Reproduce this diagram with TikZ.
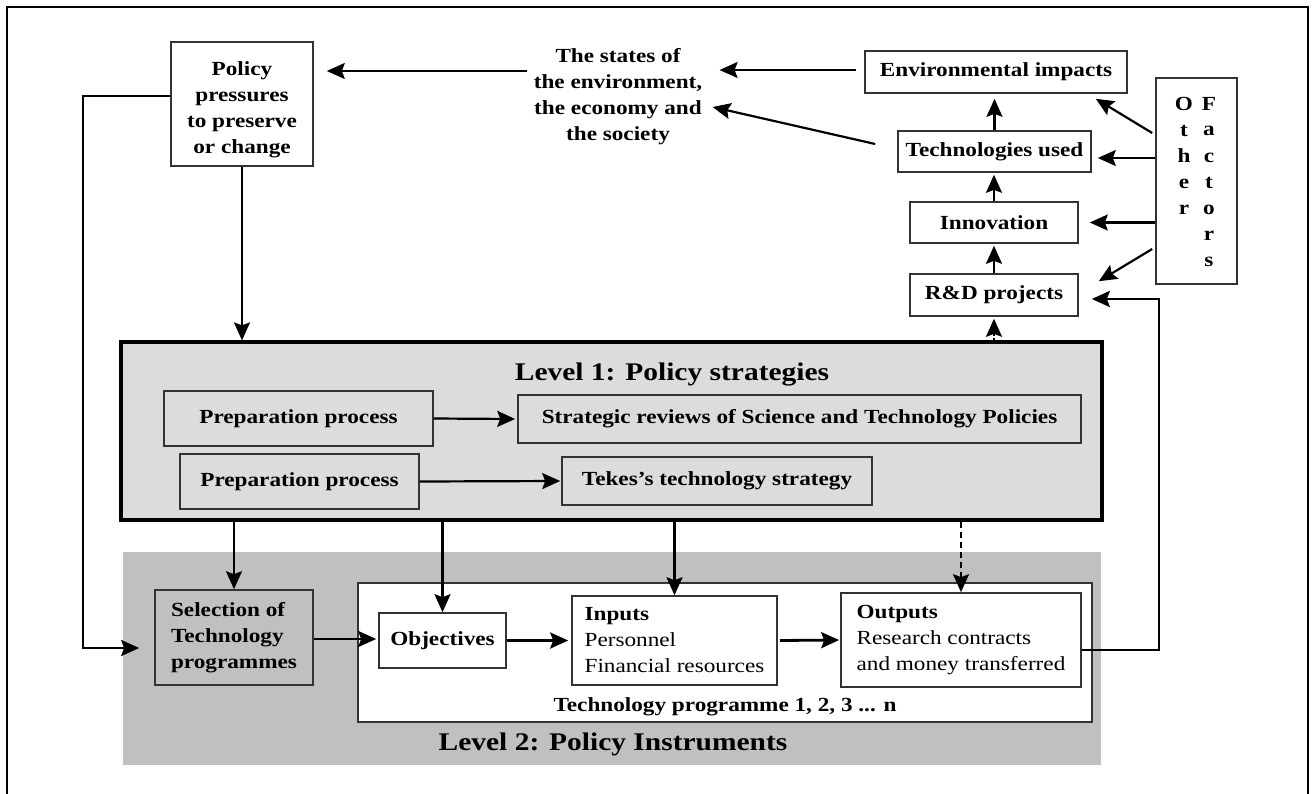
\documentclass[tikz,border=0pt]{standalone}
\usepackage{fontspec}
\setmainfont{Liberation Serif}[FakeStretch=1.16]
\usetikzlibrary{arrows.meta,calc}
\definecolor{lone}{HTML}{DCDCDC}
\definecolor{ltwo}{HTML}{C0C0C0}
\definecolor{bord}{HTML}{333333}
\newcommand\dgb{\fontsize{10}{13}\selectfont\bfseries}
\newcommand\dgt{\fontsize{12.7}{15}\selectfont\bfseries}
\begin{document}
\begin{tikzpicture}[x=0.5pt,y=-0.5pt,
  box/.style={draw=bord,line width=0.8pt,inner sep=0pt,align=center,font=\dgb},
  txt/.style={inner sep=0pt,align=center,font=\dgb},
  arr/.style={line width=1.1pt,-{Stealth[length=9pt,width=8pt,inset=1.5pt]}},
  thickarr/.style={arr,line width=1.4pt}]
\useasboundingbox (0,0) rectangle (1312,793);
\draw[line width=1pt] (7,820) -- (7,7) -- (1308,7) -- (1308,820);

% backgrounds
\node[inner sep=0pt, fill=ltwo, minimum width=489pt, minimum height=106.5pt] (level2) at (612,658.5) {};
\node[box, fill=lone, draw=black, line width=1.6pt, minimum width=490.5pt, minimum height=89pt] (level1) at (611.5,431) {};
\node[txt, font=\dgt] (l1title) at (672,374) {Level 1: Policy strategies};
\node[txt, font=\dgt] (l2title) at (613,744) {Level 2: Policy Instruments};

% top part
\node[box, minimum width=71pt, minimum height=62pt] (policy) at (242,104) {};
\node[txt] (policytext) at (242,110) {Policy\\pressures\\to preserve\\or change};
\node[txt] (states) at (618,97) {The states of\\the environment,\\the economy and\\the society};
\node[box, minimum width=131pt, minimum height=21pt] (env) at (996,72) {Environmental impacts};
\node[box, minimum width=96.5pt, minimum height=20.5pt] (tech) at (994.5,151.5) {Technologies used};
\node[box, minimum width=84pt, minimum height=20.5pt] (inno) at (994,222.5) {Innovation};
\node[box, minimum width=84pt, minimum height=21pt] (rd) at (994,295) {R\&D projects};
\node[box, minimum width=40.5pt, minimum height=103pt] (of) at (1196.5,181) {};
\node[txt, anchor=north] (ofa) at (1184,96.5) {O\\t\\h\\e\\r};
\node[txt, anchor=north] (ofb) at (1209,96.5) {F\\a\\c\\t\\o\\r\\s};

% level 1
\node[box, minimum width=134.5pt, minimum height=27.5pt] (prep1) at (298.5,418.5) {Preparation process};
\node[box, minimum width=281.5pt, minimum height=24pt] (strat) at (799.5,419) {Strategic reviews of Science and Technology Policies};
\node[box, minimum width=119.5pt, minimum height=27.5pt] (prep2) at (299.5,481.5) {Preparation process};
\node[box, minimum width=155pt, minimum height=24pt] (tekes) at (717,481) {Tekes's technology strategy};

% level 2
\node[box, fill=ltwo, align=left, minimum width=79pt, minimum height=47.5pt] (sel) at (234,637.5) {Selection of\\Technology\\programmes};
\node[box, fill=white, minimum width=367pt, minimum height=69.5pt] (prog) at (725,652.5) {};
\node[txt] (progtitle) at (725,707) {Technology programme 1, 2, 3 ... n};
\node[box, minimum width=63.5pt, minimum height=27.5pt] (obj) at (442.5,640.5) {Objectives};
\node[box, align=left, minimum width=102.5pt, minimum height=44.5pt] (inp) at (674.5,640.5) {Inputs\\{\mdseries Personnel}\\{\mdseries Financial resources}};
\node[box, align=left, minimum width=120pt, minimum height=47pt] (outp) at (961,640) {Outputs\\{\mdseries Research contracts}\\{\mdseries and money transferred}};

% connectors top
\draw[arr] ($(states.west|-0,71)+(-6,0)$) -- ($(policy.east|-0,71)+(13,0)$);
\draw[arr] ($(env.west|-0,70)+(-8,0)$) -- ($(states.east|-0,70)+(17,0)$);
\draw[arr] ($(tech.west|-0,144)+(-22,0)$) -- ($(states.east|-0,107)+(10,0)$);
\draw[arr] (tech.north) -- ($(tech.north|-env.south)+(0,5)$);
\draw[arr] (inno.north) -- ($(inno.north|-tech.south)+(0,2)$);
\draw[arr] (rd.north) -- ($(rd.north|-inno.south)+(0,2)$);
\draw[arr] ($(of.west|-0,133)+(-3,0)$) -- ($(env.south east)+(-32,5)$);
\draw[arr] (of.west|-0,158) -- ($(tech.east|-0,158)+(6,0)$);
\draw[arr] (of.west|-inno.east) -- ($(inno.east)+(11,0)$);
\draw[arr] ($(of.west|-0,249)+(-3,0)$) -- ($(rd.north east)+(20,8)$);
\coordinate (fb) at (1159,299);
\draw[thickarr] (outp.east|-0,650) -| (fb) -- ($(rd.east|-fb)+(13,0)$);
\draw[arr, densely dotted] (rd.south|-level1.north) -- ($(rd.south)+(0,2)$);
\draw[arr] (policy.south) -- (policy.south|-level1.north);
\coordinate (lc) at (83,96);
\draw[thickarr] (policy.west|-lc) -- (lc) |- ($(sel.west|-0,648)+(-15,0)$);

% level 1 connectors
\draw[arr] (prep1.east) -- ($(strat.west)+(-2,0)$);
\draw[arr] (prep2.east) -- ($(tekes.west)+(-1,0)$);

% level 1 -> level 2
\draw[arr] (sel.north|-level1.south) -- (sel.north);
\draw[arr] (obj.north|-level1.south) -- (obj.north);
\draw[arr] (inp.north|-level1.south) -- (inp.north);
\draw[arr, dash pattern=on 3pt off 2pt] (outp.north|-level1.south) -- (outp.north);

% level 2 connectors
\draw[thickarr] (sel.east|-0,639) -- ($(obj.west|-0,639)+(-2,0)$);
\draw[thickarr] (obj.east) -- ($(inp.west)+(-3,0)$);
\draw[thickarr] ($(inp.east)+(2,0)$) -- ($(outp.west)+(-1,0)$);
\end{tikzpicture}
\end{document}
